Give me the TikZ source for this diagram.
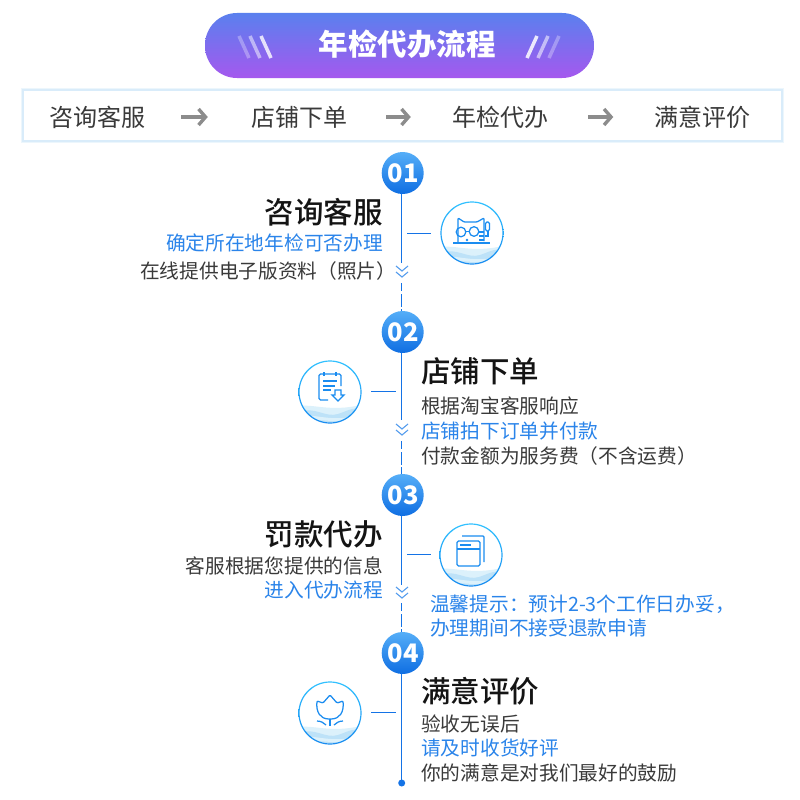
\documentclass[tikz,border=0pt]{standalone}
\usepackage{fontspec}
\usepackage{xcolor}
\usepackage{tikz}
\usetikzlibrary{positioning,calc,arrows.meta}
\setmainfont{Noto Sans CJK SC}
\newfontfamily\headfont{Noto Sans CJK SC Medium}

\definecolor{railblue}{HTML}{1473E6}
\definecolor{textblue}{HTML}{2A84EA}
\definecolor{textgray}{HTML}{3A3A3A}
\definecolor{iconblue}{HTML}{1A8CF0}
\definecolor{pilltop}{HTML}{5A80EE}
\definecolor{pillbottom}{HTML}{A558EE}
\definecolor{dottop}{HTML}{55AEF8}
\definecolor{dotbottom}{HTML}{0F6EE2}
\definecolor{wavedark}{HTML}{BDE2F8}
\definecolor{wavelight}{HTML}{DCF1FB}
\definecolor{glow}{HTML}{D9ECFA}

\tikzset{
  headtext/.style={inner sep=0pt, text=black!92, font=\headfont\fontsize{29.5}{34}\selectfont},
  bodytext/.style={inner sep=0pt, text=textgray, font=\fontsize{19.7}{24}\selectfont},
  bluetext/.style={bodytext, text=textblue},
  steptext/.style={inner sep=0pt, text=textgray, font=\fontsize{24}{28}\selectfont},
  flowarrow/.style={draw=black!45, line width=3.4pt, -{Straight Barb[length=7pt,width=16pt,line width=3.4pt]}},
  rail/.style={draw=railblue, line width=1.1pt},
  raildash/.style={rail, dash pattern=on 8pt off 3pt on 13pt off 2pt},
  tick/.style={draw=railblue, line width=1pt},
  chevron/.style={draw=textblue!80, line width=1.1pt},
  numdot/.style={circle, minimum size=42pt, inner sep=0pt, top color=dottop, bottom color=dotbottom,
    text=white, font=\bfseries\fontsize{25.5}{28}\selectfont},
  iconline/.style={draw=iconblue, line width=1.25pt},
  icon base/.pic={
    \begin{scope}
      \clip (0,0) circle (30.5);
      \fill[wavelight] (-31,14) .. controls (-15,12) and (0,20) .. (31,13) -- (31,32) -- (-31,32) -- cycle;
      \fill[wavedark] (-31,20) .. controls (-15,14) and (-5,26) .. (8,22) .. controls (15,20) and (22,15) .. (31,17) -- (31,32) -- (-31,32) -- cycle;
      \fill[wavelight] (-31,24) .. controls (-15,21) and (0,31) .. (31,23) -- (31,26) .. controls (10,33) and (-10,26) .. (-31,28) -- cycle;
    \end{scope}
    \shade[top color=cyan!70!blue!80, bottom color=iconblue, even odd rule] (0,0) circle (31.6) (0,0) circle (30.4);
  }
}

\begin{document}
\begin{tikzpicture}[x=1pt, y=-1pt]
  \useasboundingbox (0,0) rectangle (800,800);
  \fill[white] (0,0) rectangle (800,800);

  % Title pill
  \node[rounded corners=32pt, minimum width=389pt, minimum height=65pt, inner sep=0pt,
    top color=pilltop, bottom color=pillbottom] (titlepill) at (399.5,45.5) {};
  \node[text=white, inner sep=0pt, font=\bfseries\fontsize{29.5}{34}\selectfont] (titletext) at (407,44.5) {年检代办流程};
  % Stripes
  \draw[white, opacity=0.3, line width=3.5pt] (239,36) -- (249,58);
  \draw[white, opacity=0.5, line width=3.5pt] (250,36) -- (260,58);
  \draw[white, opacity=0.8, line width=3.5pt] (261,36) -- (271,58);
  \draw[white, opacity=0.85, line width=3.5pt] (527,58) -- (537,36);
  \draw[white, opacity=0.55, line width=3.5pt] (538,58) -- (548,36);
  \draw[white, opacity=0.3, line width=3.5pt] (549,58) -- (559,36);

  % Step bar
  \draw[glow!50, line width=4pt] (23,90) rectangle (782,141);
  \draw[glow, line width=2pt, fill=white] (23,90) rectangle (782,141);
  \node[steptext] (s1) at (97,117) {咨询客服};
  \node[steptext] (s2) at (299,117) {店铺下单};
  \node[steptext] (s3) at (500,117) {年检代办};
  \node[steptext] (s4) at (702.5,117) {满意评价};
  \draw[flowarrow, shorten <=36pt, shorten >=43pt] (s1) -- (s2);
  \draw[flowarrow, shorten <=39pt, shorten >=41pt] (s2) -- (s3);
  \draw[flowarrow, shorten <=40pt, shorten >=41pt] (s3) -- (s4);

  % Number dots
  \node[numdot] (n1) at (402.7,173) {\hspace{1pt}01};
  \node[numdot] (n2) at (402.7,332) {\hspace{1pt}02};
  \node[numdot] (n3) at (402.7,495) {\hspace{1pt}03};
  \node[numdot] (n4) at (402.7,653) {\hspace{1pt}04};

  % Timeline
  \coordinate (l1a) at (401.7,263);
  \coordinate (l1b) at (401.7,283);
  \coordinate (l2a) at (401.7,420);
  \coordinate (l2b) at (401.7,441);
  \coordinate (l3a) at (401.7,585);
  \coordinate (l3b) at (401.7,603);
  \coordinate (l4a) at (401.7,783);
  \draw[rail] (n1.south -| l1a) -- (l1a);
  \draw[raildash] (l1b) -- (n2.north -| l1b);
  \draw[rail] (n2.south -| l2a) -- (l2a);
  \draw[raildash] (l2b) -- (n3.north -| l2b);
  \draw[rail] (n3.south -| l3a) -- (l3a);
  \draw[raildash] (l3b) -- (n4.north -| l3b);
  \draw[rail] (n4.south -| l4a) -- (l4a);
  \fill[railblue] (l4a) circle (3.5);

  % Chevrons
  \draw[chevron] (396,266) -- (402,271) -- (408,266);
  \draw[chevron] (396,272) -- (402,277) -- (408,272);
  \draw[chevron] (396,424) -- (402,429) -- (408,424);
  \draw[chevron] (396,430) -- (402,435) -- (408,430);
  \draw[chevron] (396,587) -- (402,592) -- (408,587);
  \draw[chevron] (396,593) -- (402,598) -- (408,593);

  % Icon 1 (cat)
  \pic at (472,233) {icon base};
  \coordinate (t1a) at (407,233);
  \coordinate (t1b) at (431,233);
  \draw[tick] (t1a) -- (t1b);
  \draw[iconline, rounded corners=1pt] (458,243) -- (458,218) -- (464,222) -- (477,222) -- (484,218) -- (484,241);
  \draw[iconline] (461,232) circle (4.8);
  \draw[iconline] (474,231.5) circle (4.8);
  \draw[iconline] (465.8,231.5) -- (469.2,231.5);
  \draw[iconline] (453,243) -- (490,243);
  \draw[iconline] (485,236) -- (488,236) -- (488,231);
  \draw[iconline, rounded corners=1.5pt] (485.5,222) rectangle (489.5,231);
  \draw[iconline] (479,232) -- (484,232);
  \draw[iconline] (479,236) -- (484,236);
  \draw[iconline] (479,240) -- (484,240);
  \fill[iconblue] (467,240) circle (1.4);

  % Icon 2 (order)
  \pic at (330,392) {icon base};
  \coordinate (t2a) at (371,391);
  \coordinate (t2b) at (396,391);
  \draw[tick] (t2a) -- (t2b);
  \draw[iconline, rounded corners=1.5pt] (328,400) -- (319,400) -- (319,374) -- (341,374) -- (341,386);
  \draw[iconline] (324,372) -- (324,376);
  \draw[iconline] (336,372) -- (336,376);
  \draw[iconline] (323,381) -- (337,381);
  \draw[iconline] (323,386) -- (335,386);
  \draw[iconline] (323,390) -- (331,390);
  \draw[iconline] (335,390) -- (341,390) -- (341,395) -- (344,395) -- (338,401) -- (332,395) -- (335,395) -- cycle;

  % Icon 3 (pages)
  \pic at (471,555) {icon base};
  \coordinate (t3a) at (407,554);
  \coordinate (t3b) at (431,554);
  \draw[tick] (t3a) -- (t3b);
  \draw[iconline, rounded corners=1pt] (462,536) -- (484,536) -- (484,562);
  \draw[iconline, rounded corners=1.5pt] (457,541) rectangle (480,566);
  \draw[iconline] (457,549) -- (480,549);
  \draw[iconline] (460,545) -- (471,545);

  % Icon 4 (flower)
  \pic at (330,713) {icon base};
  \coordinate (t4a) at (371,712);
  \coordinate (t4b) at (396,712);
  \draw[tick] (t4a) -- (t4b);
  \draw[iconline, rounded corners=1pt] (323,703) -- (317,701) .. controls (316,712) and (320,719) .. (330,719) .. controls (340,719) and (344,712) .. (343,701) -- (337,703) -- (330,695) -- cycle;
  \draw[iconline] (330,719) -- (330,726);
  \draw[iconline] (317,721) .. controls (321,721) and (324,723) .. (326,725);
  \draw[iconline] (343,721) .. controls (339,721) and (336,723) .. (334,725);

  % Texts 01
  \node[headtext, anchor=east] (h1) at (383,212.5) {咨询客服};
  \node[bluetext, anchor=east] (b11) at (383,243) {确定所在地年检可否办理};
  \node[bodytext, anchor=west] (b12) at (140,271) {在线提供电子版资料（照片）};

  % Texts 02
  \node[headtext, anchor=west] (h2) at (421,371) {店铺下单};
  \node[bodytext, anchor=west] (b21) at (421,406) {根据淘宝客服响应};
  \node[bluetext, anchor=west] (b22) at (421,431) {店铺拍下订单并付款};
  \node[bodytext, anchor=west] (b23) at (421,456) {付款金额为服务费（不含运费）};

  % Texts 03
  \node[headtext, anchor=east] (h3) at (383,534) {罚款代办};
  \node[bodytext, anchor=east] (b31) at (383,566) {客服根据您提供的信息};
  \node[bluetext, anchor=east] (b32) at (383,590) {进入代办流程};
  \node[bluetext, anchor=west] (b33) at (430,604) {温馨提示：预计2-3个工作日办妥，};
  \node[bluetext, anchor=west] (b34) at (430,628) {办理期间不接受退款申请};

  % Texts 04
  \node[headtext, anchor=west] (h4) at (421,691) {满意评价};
  \node[bodytext, anchor=west] (b41) at (421,724) {验收无误后};
  \node[bluetext, anchor=west] (b42) at (421,748) {请及时收货好评};
  \node[bodytext, anchor=west] (b43) at (421,773) {你的满意是对我们最好的鼓励};
\end{tikzpicture}
\end{document}
